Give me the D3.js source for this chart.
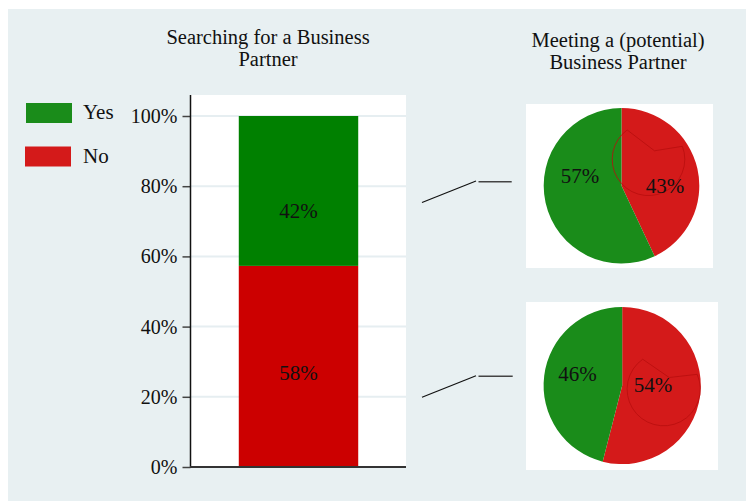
<!DOCTYPE html>
<html>
<head>
<meta charset="utf-8">
<script src="https://cdn.jsdelivr.net/npm/d3@7/dist/d3.min.js"></script>
<style>
  html, body { margin: 0; padding: 0; background: #ffffff; }
  svg { display: block; }
  text { font-family: "Liberation Serif", "Times New Roman", serif; fill: #111; }
</style>
</head>
<body>
<svg id="chart" width="746" height="501"></svg>
<script>
// ---------------- DATA ----------------
const categories = ["No", "Yes"];
const legendLabels = ["Yes", "No"];
const barTitle = ["Searching for a Business", "Partner"];
const pieTitle = ["Meeting a (potential)", "Business Partner"];
const barValues = [57.3, 42.7];           // No, Yes (stacked, bottom to top)
const barLabels = ["58%", "42%"];
const pie1Values = [43, 57];              // No, Yes
const pie1Labels = ["43%", "57%"];
const pie2Values = [54, 46];              // No, Yes
const pie2Labels = ["54%", "46%"];
const yTicks = [0, 20, 40, 60, 80, 100];
const yTickLabels = ["0%", "20%", "40%", "60%", "80%", "100%"];

// ---------------- STYLE ----------------
const barColors = { No: "#cc0000", Yes: "#008000" };
const pieColors = { No: "#d41a1a", Yes: "#1a8c1a" };
const bgColor = "#e8f0f2";

const svg = d3.select("#chart");
svg.append("rect").attr("x", 8).attr("y", 9).attr("width", 738).attr("height", 492).attr("fill", bgColor);

// ---------------- BAR CHART ----------------
const plot = { left: 191, right: 406, top: 95, bottom: 467 };
svg.append("rect").attr("x", plot.left).attr("y", plot.top)
  .attr("width", plot.right - plot.left).attr("height", plot.bottom - plot.top).attr("fill", "#fff");

const y = d3.scaleLinear().domain([0, 100]).range([467, 116]);
const x = d3.scaleBand().domain(["bar"]).range([plot.left, plot.right]).paddingInner(0).paddingOuter(0.4);

// gridlines
svg.append("g").selectAll("line").data(yTicks).join("line")
  .attr("x1", plot.left).attr("x2", plot.right)
  .attr("y1", d => y(d)).attr("y2", d => y(d))
  .attr("stroke", "#e6eef1").attr("stroke-width", 2);

// stacked bar
const stackData = [{ No: barValues[0], Yes: barValues[1] }];
const series = d3.stack().keys(categories)(stackData);
svg.append("g").selectAll("rect").data(series).join("rect")
  .attr("x", x("bar")).attr("width", x.bandwidth())
  .attr("y", s => y(s[0][1])).attr("height", s => y(s[0][0]) - y(s[0][1]))
  .attr("fill", s => barColors[s.key]);

// bar labels
const barLabelPos = [27, 73];
svg.append("g").selectAll("text").data(series).join("text")
  .attr("x", x("bar") + x.bandwidth() / 2)
  .attr("y", (s, i) => y(barLabelPos[i]))
  .attr("dy", "0.35em").attr("text-anchor", "middle")
  .attr("font-size", 21)
  .text((s, i) => barLabels[i]);

// y axis
const yAxis = d3.axisLeft(y).tickValues(yTicks).tickFormat((d, i) => yTickLabels[i]).tickSize(8).tickPadding(5);
const gy = svg.append("g").attr("transform", `translate(${plot.left - 0.5},0)`).call(yAxis);
gy.select(".domain").remove();
gy.selectAll(".tick line").attr("stroke", "#444").attr("stroke-width", 1.5);
gy.selectAll(".tick text").attr("font-size", 20).attr("font-family", "Liberation Serif").attr("fill", "#222");
svg.append("line").attr("x1", plot.left - 0.5).attr("x2", plot.left - 0.5)
  .attr("y1", plot.top).attr("y2", plot.bottom).attr("stroke", "#111").attr("stroke-width", 1.5);
svg.append("line").attr("x1", plot.left - 1).attr("x2", plot.right)
  .attr("y1", plot.bottom).attr("y2", plot.bottom).attr("stroke", "#333").attr("stroke-width", 2);

// bar title
const t1 = svg.append("text").attr("text-anchor", "middle").attr("font-size", 20.5);
barTitle.forEach((l, i) => t1.append("tspan").attr("x", 268).attr("y", 43.5 + i * 22).text(l));

// legend
const legendColors = [pieColors.Yes, pieColors.No];
const lg = svg.append("g");
legendLabels.forEach((l, i) => {
  lg.append("rect").attr("x", 26 - i).attr("y", 103 + i * 43.5).attr("width", 46).attr("height", 20).attr("fill", legendColors[i]);
  lg.append("text").attr("x", 83).attr("y", 119 + i * 44).attr("font-size", 21).text(l);
});

// ---------------- PIES ----------------
const t2 = svg.append("text").attr("text-anchor", "middle").attr("font-size", 20.5);
pieTitle.forEach((l, i) => t2.append("tspan").attr("x", 618).attr("y", 47 + i * 22).text(l));

const pies = [
  { values: pie1Values, labels: pie1Labels, box: [526, 104, 187, 164], cx: 621.5, cy: 185.8, r: 77.8,
    labelPos: [[665, 193], [580, 183]],
    conn: [[422, 202.5], [476, 181], [478.5, 181.7], [511.7, 181.7]],
    deco: { c: [27, -26.5], r: 36.3, apex: [33, -35], a0: 69, a1: 324 } },
  { values: pie2Values, labels: pie2Labels, box: [526, 302, 192, 168], cx: 622.2, cy: 385.5, r: 78.6,
    labelPos: [[653, 391.5], [577.5, 381]],
    conn: [[422, 397.3], [476, 375.7], [478.5, 376.3], [512.7, 376.3]],
    deco: { c: [41.5, 3.7], r: 36.6, apex: [47, -8], a0: 66, a1: 325 } }
];

const pieGen = d3.pie().sort(null).value(d => d.v);
pies.forEach(p => {
  svg.append("rect").attr("x", p.box[0]).attr("y", p.box[1]).attr("width", p.box[2]).attr("height", p.box[3]).attr("fill", "#fff");
  const g = svg.append("g").attr("transform", `translate(${p.cx},${p.cy})`);
  const arc = d3.arc().innerRadius(0).outerRadius(p.r);
  const arcs = pieGen(categories.map((k, i) => ({ k, v: p.values[i] })));
  g.selectAll("path").data(arcs).join("path").attr("d", arc).attr("fill", d => pieColors[d.data.k]);

  // faint outline artifact inside the red slice
  const dc = p.deco;
  const toRad = a => (a - 90) * Math.PI / 180;
  const pth = d3.path();
  const px = a => dc.c[0] + dc.r * Math.cos(toRad(a));
  const py = a => dc.c[1] + dc.r * Math.sin(toRad(a));
  pth.moveTo(px(dc.a1), py(dc.a1));
  pth.lineTo(dc.apex[0], dc.apex[1]);
  pth.lineTo(px(dc.a0), py(dc.a0));
  pth.arc(dc.c[0], dc.c[1], dc.r, toRad(dc.a0), toRad(dc.a1), false);
  g.append("path").attr("d", pth.toString()).attr("fill", "none").attr("stroke", "#b80e0e").attr("stroke-width", 1).attr("opacity", 0.8);

  p.labels.forEach((l, i) => {
    svg.append("text").attr("x", p.labelPos[i][0]).attr("y", p.labelPos[i][1])
      .attr("text-anchor", "middle").attr("font-size", 21).text(l);
  });

  // connector lines
  svg.append("line").attr("x1", p.conn[0][0]).attr("y1", p.conn[0][1]).attr("x2", p.conn[1][0]).attr("y2", p.conn[1][1])
    .attr("stroke", "#111").attr("stroke-width", 1.2);
  svg.append("line").attr("x1", p.conn[2][0]).attr("y1", p.conn[2][1]).attr("x2", p.conn[3][0]).attr("y2", p.conn[3][1])
    .attr("stroke", "#444").attr("stroke-width", 1.5);
});
</script>
</body>
</html>
